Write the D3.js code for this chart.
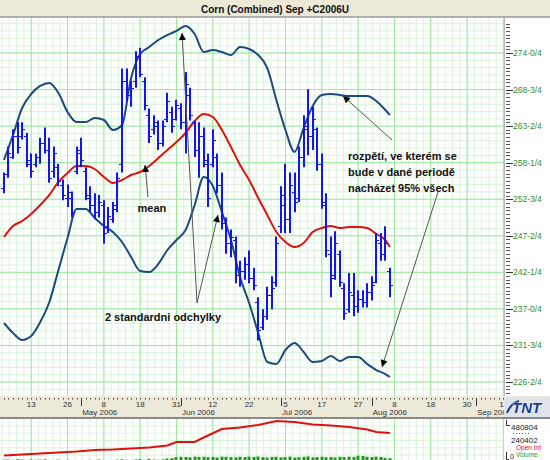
<!DOCTYPE html>
<html>
<head>
<meta charset="utf-8">
<script src="https://cdn.jsdelivr.net/npm/d3@7"></script>
<style>
body{margin:0;background:#fff}
svg{display:block;font-family:"Liberation Sans",Arial,sans-serif}
</style>
</head>
<body>
<script>
const WIDTH=550, HEIGHT=460;
const PLOT_RIGHT=504, PLOT_TOP=18, PLOT_BOTTOM=396;

// trading day index of the first bar (0 = 13 Apr 2006)
const firstIdx=-6;
const high=[256.75,260.5,263,264,264,262.5,259.5,259.5,261.75,263.25,261.75,260.5,258,255.75,255,254,
  260.5,261.75,257.5,254.75,253.75,253.5,252.75,251.75,252.5,256.75,271.75,271.75,270,274.25,274.75,270.5,
  266,265,264.25,264.25,268.25,266.25,267.25,266.75,271.25,269,264.25,264,263.25,259.5,263,259.5,
  256.75,250.25,248.5,247.5,244,244.5,245.5,243,238.75,237,240.25,241.75,247.5,254.75,258,256.75,
  256.75,260.5,265,268.75,266.25,263.25,259.5,253.75,247.5,248.25,245.5,240.75,242.25,242.25,239.75,239.75,
  240.75,241.75,248,248,249,243];
const low=[253.75,256,258.75,259.5,261.5,257.5,256,257.5,258,259.5,255.25,256,254.75,252.75,251.75,250.25,
  256.5,257.5,252.75,251,250,250.25,246.5,248,249.5,251,256.75,267,266.25,269,270.5,265.75,
  261,262.25,260,260.5,264,262.5,264.25,263,259.5,264.25,259,256,257.5,251.75,257.5,253.75,
  248.5,245,244.5,240.75,240.25,241.25,240.75,239.75,232.5,234,235.5,237,240.25,248,248,248,
  251,252.5,257.5,259.25,260,257,251.5,244.5,238.75,241.25,240.25,235.5,236.5,236,236.5,237.25,
  237.25,238.25,240.75,244,244,238.75];
const open=[254.5,256.5,259,262,262,262,258,258,259,261,260,257,257.5,255,253,253,
  257,260,257,253,252,251,252,249,250,252,258,270,268,270,273.5,270,
  265,263,263.5,261,264.5,265.5,264.5,266,264,268,264,260,262,258,258,259,
  255,249.5,246.5,247,242,242.5,243.5,241.5,238,234.5,236,239,241,249,252,250,
  254,253,259,263,262,263,258,252,245,242,245,240,237,239,237.5,238.5,
  238,239.5,241,246.5,245,242.5];
const close=[256.5,259.5,262,260.5,263,258.5,257,259,261,260,256,259.5,255.5,253.5,254,251,
  259.5,258.5,253.5,252,251,252.5,248,250.5,251.5,256,270,268,269,273.5,271,266.5,
  262,264,261,263.5,267,263.5,266.5,264,269.5,265,260,262,258.5,253,261.5,255,
  249.5,246.5,247.5,242,242.5,243.5,241.5,240.5,234,236,239,240,246.5,253.5,250,255,
  252.5,259,263.5,262,264.5,258,252.5,245.5,241.5,246.5,241,236.5,239.5,237.5,238.5,238,
  239.5,240.5,247,245,246.5,240.5];

// bollinger lines, read every second bar
const bandIdx=[-6,-4,-2,0,2,4,6,8,10,12,14,16,18,20,22,24,26,28,30,32,34,36,38,40,42,44,46,48,
  50,52,54,56,58,60,62,64,66,68,70,72,74,76,78,79];
const upper=[258.55,262.16,266.06,268.08,269.24,269.67,268.22,265.48,264.04,264.04,264.62,264.33,262.88,263.6,
  270.39,273.86,274.87,275.88,276.6,277.18,277.9,276.74,274.14,274.43,274.14,273.71,274.87,274.58,
  273.71,271.83,267.21,262.88,259.71,263.17,266.35,267.94,268.08,267.94,267.79,267.79,267.79,267.07,265.77,265.05];
const lower=[235.02,233.57,232.56,233.14,235.16,238.05,242.67,247.29,251.48,251.48,250.18,249.02,248.16,246.71,
  244.55,242.53,242.38,243.54,245.56,247,248.45,252.05,256.1,254.8,251.04,247,241.66,237.9,
  233.57,229.39,229.1,231.12,232.13,230.83,229.39,229.53,230.25,229.53,230.11,230.11,229.1,228.23,227.65,227.22];
const mean=[247.43,249.02,249.74,250.76,252.05,253.5,255.38,256.67,257.68,257.68,257.25,256.1,255.23,255.66,
  256.39,256.82,257.68,258.84,260,261.15,262.45,264.18,265.19,264.76,262.88,260.43,257.83,255.66,
  253.07,250.61,248.16,246.71,245.99,246.57,248.16,248.73,249.02,248.73,248.88,248.88,248.73,247.87,247,245.99];

// lower panel
const oiIdx=[-6,-2,2,6,10,14,18,22,26,30,32,36,38,42,46,50,54,58,62,66,70,74,76,79];
const openInt=[22500,37600,52600,67600,82600,105200,112700,127700,142700,172800,225400,225400,293000,
  420700,443200,480800,540900,525900,488300,473300,450800,413200,375600,360600];
const volume=[20000,22000,18000,25000,20000,15000,22000,18000,20000,24000,16000,15000,20000,12000,18000,14000,
  12000,15000,10000,18000,14000,22000,12000,16000,14000,20000,25000,18000,15000,22000,28000,16000,30000,20000,18000,24000,
  35000,40000,55000,60000,58000,52000,62000,56000,60000,54000,58000,50000,62000,60000,55000,52000,60000,56000,62000,58000,
  64000,55000,50000,58000,60000,52000,56000,62000,50000,54000,60000,65000,52000,56000,60000,54000,58000,52000,60000,56000,
  62000,58000,75000,70000,60000,56000,62000,58000,45000,40000];

const priceTicks=[274,268.72,263.44,258.17,252.89,247.61,242.33,237.06,231.78,226.5];
const priceLabels=["274-0/4","268-3/4","263-2/4","258-1/4","252-3/4","247-2/4","242-1/4","237-0/4","231-3/4","226-2/4"];
const dayTickIdx=[0,8,16,24,32,40,48,56,64,72,80,88,96,104];
const dayLabels=["13","26","8","18","31","12","22","5","17","27","8","18","30","11"];
const monthIdx=[11,33,55,75,98];
const monthLabels=["May 2006","Jun 2006","Jul 2006","Aug 2006","Sep 2006"];
const volTicks=[480804,240402,0];

const svg=d3.select("body").append("svg").attr("width",WIDTH).attr("height",HEIGHT);

let x=d3.scaleLinear().domain([0,104]).range([31.2,503.4]);
let y=d3.scaleLinear().domain([226.5,274]).range([382,53]);
let yv=d3.scaleLinear().domain([0,480804]).range([461,427]);
let yoi=d3.scaleLinear().domain([0,480804]).range([457,425]);

svg.append("rect").attr("width",WIDTH).attr("height",HEIGHT).attr("fill","#fff");

let defs=svg.append("defs");
defs.append("clipPath").attr("id","plotClip").append("rect")
  .attr("x",0).attr("y",PLOT_TOP).attr("width",PLOT_RIGHT).attr("height",PLOT_BOTTOM-PLOT_TOP);
defs.append("clipPath").attr("id","volClip").append("rect")
  .attr("x",0).attr("y",419).attr("width",PLOT_RIGHT).attr("height",41);
defs.append("marker").attr("id","head").attr("viewBox","0 0 10 10").attr("refX",10).attr("refY",5)
  .attr("markerWidth",10).attr("markerHeight",7).attr("markerUnits","userSpaceOnUse").attr("orient","auto")
  .append("path").attr("d","M0,0L10,5L0,10z").attr("fill","#000");

// grid
function drawGrid(g,top,bottom,yStart){
  for(let i=-8;i<=104;i+=1.6){
    g.append("line").attr("x1",x(i)).attr("x2",x(i)).attr("y1",top).attr("y2",bottom)
      .attr("stroke","#d9f4d9").attr("stroke-width",1);
  }
  let hs=(y(226.5)-y(274))/45;
  for(let v=yStart;v<=bottom;v+=hs){
    if(v<top) continue;
    g.append("line").attr("x1",0).attr("x2",PLOT_RIGHT).attr("y1",v).attr("y2",v)
      .attr("stroke","#d9f4d9").attr("stroke-width",1);
  }
  for(let i=0;i<=104;i+=8){
    g.append("line").attr("x1",x(i)).attr("x2",x(i)).attr("y1",top).attr("y2",bottom)
      .attr("stroke","#9de89d").attr("stroke-width",1);
  }
}
let gGrid=svg.append("g").attr("clip-path","url(#plotClip)");
drawGrid(gGrid,PLOT_TOP,PLOT_BOTTOM,y(274)-5*(y(226.5)-y(274))/45);
// major horizontal lines
let step=(274-226.5)/9;
for(let k=-1;k<=10;k++){
  let v=y(274-k*step);
  if(v<PLOT_TOP||v>PLOT_BOTTOM) continue;
  gGrid.append("line").attr("x1",0).attr("x2",PLOT_RIGHT).attr("y1",v).attr("y2",v)
    .attr("stroke","#9de89d").attr("stroke-width",1);
}
let gVolGrid=svg.append("g").attr("clip-path","url(#volClip)");
drawGrid(gVolGrid,419,460,y(274)-5*(y(226.5)-y(274))/45);

// right axis
let gAx=svg.append("g");
gAx.append("line").attr("x1",PLOT_RIGHT+0.5).attr("x2",PLOT_RIGHT+0.5).attr("y1",PLOT_TOP).attr("y2",PLOT_BOTTOM)
  .attr("stroke","#b8b8b8");
let ms=(y(226.5)-y(274))/90;
for(let v=y(274)-ms*40;v<=PLOT_BOTTOM;v+=ms){
  if(v<PLOT_TOP+3) continue;
  gAx.append("line").attr("x1",506).attr("x2",510).attr("y1",Math.round(v)+0.5).attr("y2",Math.round(v)+0.5)
    .attr("stroke","#555").attr("stroke-width",1);
}
priceTicks.forEach((t,k)=>{
  gAx.append("line").attr("x1",506).attr("x2",513).attr("y1",Math.round(y(t))+0.5).attr("y2",Math.round(y(t))+0.5)
    .attr("stroke","#333");
  gAx.append("text").attr("x",513).attr("y",y(t)+3).attr("font-size",8.5).attr("fill","#2f8f2f")
    .text(priceLabels[k]);
});

// bands and mean
let gLines=svg.append("g").attr("clip-path","url(#plotClip)");
let line=d3.line().x(d=>x(d[0])).y(d=>y(d[1])).curve(d3.curveMonotoneX);
gLines.append("path").datum(bandIdx.map((i,k)=>[i,upper[k]])).attr("d",line)
  .attr("fill","none").attr("stroke","#1b4b7b").attr("stroke-width",2);
gLines.append("path").datum(bandIdx.map((i,k)=>[i,lower[k]])).attr("d",line)
  .attr("fill","none").attr("stroke","#1b4b7b").attr("stroke-width",2);
gLines.append("path").datum(bandIdx.map((i,k)=>[i,mean[k]])).attr("d",line)
  .attr("fill","none").attr("stroke","#e01010").attr("stroke-width",2);

// OHLC bars
let bars=high.map((h,k)=>({i:firstIdx+k,h:h,l:low[k],o:open[k],c:close[k]}));
let gBars=svg.append("g").attr("clip-path","url(#plotClip)");
let bg=gBars.selectAll("g.bar").data(bars).enter().append("g").attr("class","bar");
bg.append("line").attr("x1",d=>Math.round(x(d.i))).attr("x2",d=>Math.round(x(d.i)))
  .attr("y1",d=>y(d.h)).attr("y2",d=>y(d.l)).attr("stroke","#1414f0").attr("stroke-width",2);
bg.append("line").attr("x1",d=>Math.round(x(d.i))-3).attr("x2",d=>Math.round(x(d.i)))
  .attr("y1",d=>Math.round(y(d.o))+0.5).attr("y2",d=>Math.round(y(d.o))+0.5).attr("stroke","#1414f0").attr("stroke-width",1);
bg.append("line").attr("x1",d=>Math.round(x(d.i))).attr("x2",d=>Math.round(x(d.i))+3)
  .attr("y1",d=>Math.round(y(d.c))+0.5).attr("y2",d=>Math.round(y(d.c))+0.5).attr("stroke","#1414f0").attr("stroke-width",1);

// annotations (in chart coordinates: trading index, price)
let gAnn=svg.append("g");
function arrow(a,b){
  gAnn.append("line").attr("x1",x(a[0])).attr("y1",y(a[1])).attr("x2",x(b[0])).attr("y2",y(b[1]))
    .attr("stroke","#555").attr("stroke-width",1).attr("marker-end","url(#head)");
}
function label(t,p,anchor){
  gAnn.append("text").attr("x",x(p[0])).attr("y",y(p[1])).attr("text-anchor",anchor||"middle")
    .attr("font-size",11).attr("font-weight","bold").attr("fill","#111").text(t);
}
arrow([25.72,253.21],[25.07,257.83]);
label("mean",[26.6,251.05]);
arrow([36.52,237.91],[33.21,276.89]);
arrow([36.52,237.91],[41.14,250.61]);
label("2 standardni odchylky",[29.03,235.3]);
arrow([79.47,261.44],[68.68,267.79]);
arrow([89.6,253.93],[77.26,228.66]);
label("rozpětí, ve kterém se",[69.77,258.55],"start");
label("bude v dané periodě",[69.77,256.2],"start");
label("nacházet 95% všech",[69.77,253.9],"start");

// title bar
svg.append("rect").attr("x",0).attr("y",0).attr("width",WIDTH).attr("height",17).attr("fill","#ece9d8");
svg.append("line").attr("x1",0).attr("x2",WIDTH).attr("y1",17).attr("y2",17).attr("stroke","#9a9a9a").attr("stroke-width",1.5);
svg.append("text").attr("x",275).attr("y",12.5).attr("text-anchor","middle").attr("font-size",10)
  .attr("font-weight","bold").attr("fill","#111").text("Corn (Combined) Sep +C2006U");

// date axis band
let gX=svg.append("g");
gX.append("rect").attr("x",0).attr("y",396).attr("width",WIDTH).attr("height",21).attr("fill","#ece9d8");
gX.append("line").attr("x1",0).attr("x2",WIDTH).attr("y1",418).attr("y2",418).attr("stroke","#8a8a8a").attr("stroke-width",2);
for(let i=-7;i<=104;i++){
  gX.append("line").attr("x1",Math.round(x(i))+0.5).attr("x2",Math.round(x(i))+0.5).attr("y1",398).attr("y2",399.5)
    .attr("stroke","#444");
}
dayTickIdx.forEach((i,k)=>{
  gX.append("text").attr("x",x(i)).attr("y",406.5).attr("text-anchor","middle").attr("font-size",8)
    .attr("fill","#333").text(dayLabels[k]);
});
monthIdx.forEach((i,k)=>{
  gX.append("line").attr("x1",Math.round(x(i))+0.5).attr("x2",Math.round(x(i))+0.5).attr("y1",398).attr("y2",406)
    .attr("stroke","#333");
  gX.append("text").attr("x",x(i)+1).attr("y",414.5).attr("font-size",8).attr("fill","#333").text(monthLabels[k]);
});
// logo
let gLogo=svg.append("g");
gLogo.append("rect").attr("x",504).attr("y",397).attr("width",46).attr("height",20).attr("fill","#dfe3ec");
gLogo.append("path").attr("d","M507,413 q4,-10 12,-12").attr("fill","none").attr("stroke","#1d3d8c").attr("stroke-width",2);
gLogo.append("text").attr("x",512).attr("y",413).attr("font-size",15).attr("font-weight","bold").attr("font-style","italic")
  .attr("fill","#1d3d8c").attr("stroke","#fff").attr("stroke-width",0.6).attr("paint-order","stroke").text("TNT");

// volume panel
let gVol=svg.append("g").attr("clip-path","url(#volClip)");
gVol.selectAll("rect.vol").data(volume).enter().append("rect").attr("class","vol")
  .attr("x",(d,k)=>Math.round(x(firstIdx+k))-1.5).attr("width",3)
  .attr("y",d=>yv(d)).attr("height",d=>460-yv(d)).attr("fill","#1f9a1f");
gVol.append("path").datum(oiIdx.map((i,k)=>[i,openInt[k]]))
  .attr("d",d3.line().x(d=>x(d[0])).y(d=>yoi(d[1])))
  .attr("fill","none").attr("stroke","#e01010").attr("stroke-width",2);

let gVAx=svg.append("g");
gVAx.append("path").attr("d","M506.5,420V425.5H510").attr("fill","none").attr("stroke","#333");
gVAx.append("path").attr("d","M506.5,452V459.5H509").attr("fill","none").attr("stroke","#333");
gVAx.append("text").attr("x",511).attr("y",430).attr("font-size",8).attr("fill","#222").text(volTicks[0]);
gVAx.append("text").attr("x",511).attr("y",443).attr("font-size",8).attr("fill","#222").text(volTicks[1]);
gVAx.append("text").attr("x",510).attr("y",459).attr("font-size",7).attr("fill","#222").text(volTicks[2]);
gVAx.append("line").attr("x1",513).attr("x2",530).attr("y1",433.5).attr("y2",433.5)
  .attr("stroke","#555").attr("stroke-dasharray","1,2");
gVAx.append("text").attr("x",516).attr("y",450).attr("font-size",6.5).attr("fill","#e01010").text("Open Int");
gVAx.append("text").attr("x",516).attr("y",457).attr("font-size",6.5).attr("fill","#1f9a1f").text("Volume");
</script>
</body>
</html>
